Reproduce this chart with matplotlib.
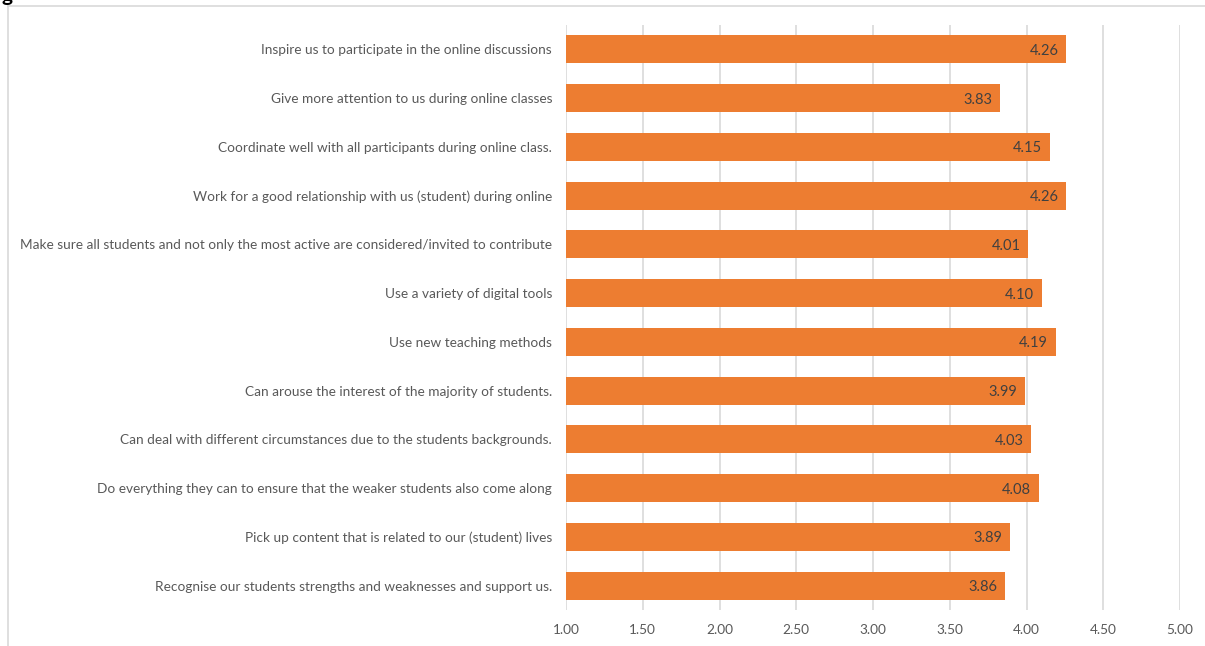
import matplotlib
matplotlib.use("Agg")
import matplotlib.pyplot as plt
from matplotlib.lines import Line2D

# items, top to bottom as shown
items = [
    "Inspire us to participate in the online discussions",
    "Give more attention to us during online classes",
    "Coordinate well with all participants during online class.",
    "Work for a good relationship with us (student) during online",
    "Make sure all students and not only the most active are considered/invited to contribute",
    "Use a variety of digital tools",
    "Use new teaching methods",
    "Can arouse the interest of the majority of students.",
    "Can deal with different circumstances due to the students backgrounds.",
    "Do everything they can to ensure that the weaker students also come along",
    "Pick up content that is related to our (student) lives",
    "Recognise our students strengths and weaknesses and support us.",
]
scores = [4.26, 3.83, 4.15, 4.26, 4.01, 4.10, 4.19, 3.99, 4.03, 4.08, 3.89, 3.86]
xticks = [1.0, 1.5, 2.0, 2.5, 3.0, 3.5, 4.0, 4.5, 5.0]

W, H = 1205, 646
fig = plt.figure(figsize=(W / 100, H / 100), dpi=100)
plt.rcParams['font.family'] = ['Lato', 'DejaVu Sans']

ax = fig.add_axes([566 / W, 1 - 610 / H, (1180 - 566) / W, (610 - 25) / H])

ypos = list(range(len(items)))
ax.barh(ypos, [s - 1.0 for s in scores], left=1.0, height=0.57,
        color='#ED7D31', zorder=3)
for y, s in zip(ypos, scores):
    ax.text(s - 0.05, y + 0.03, "%.2f" % s, ha='right', va='center',
            fontsize=10.5, color='#404040', zorder=4)

ax.set_xlim(1.0, 5.0)
ax.set_ylim(len(items) - 0.5, -0.5)
ax.set_xticks(xticks)
ax.set_xticklabels(["%.2f" % t for t in xticks])
ax.set_yticks(ypos)
ax.set_yticklabels(items)
ax.tick_params(axis='both', length=0, labelsize=9.8, labelcolor='#595959')
ax.tick_params(axis='y', pad=10)
ax.tick_params(axis='x', pad=10)
ax.grid(axis='x', color='#D9D9D9', linewidth=1.2, zorder=0)
for sp in ax.spines.values():
    sp.set_visible(False)

# chart frame (cut by figure edges)
fig.add_artist(Line2D([8 / W, 1.0], [1 - 6 / H, 1 - 6 / H], color='#D9D9D9', linewidth=1.2))
fig.add_artist(Line2D([8 / W, 8 / W], [0.0, 1 - 6 / H], color='#D9D9D9', linewidth=1.2))
fig.text(1 / W, 1 - 1 / H, "g", fontsize=15, fontweight='bold', color='black',
         va='baseline', ha='left')

fig.savefig("out.png", dpi=100)
